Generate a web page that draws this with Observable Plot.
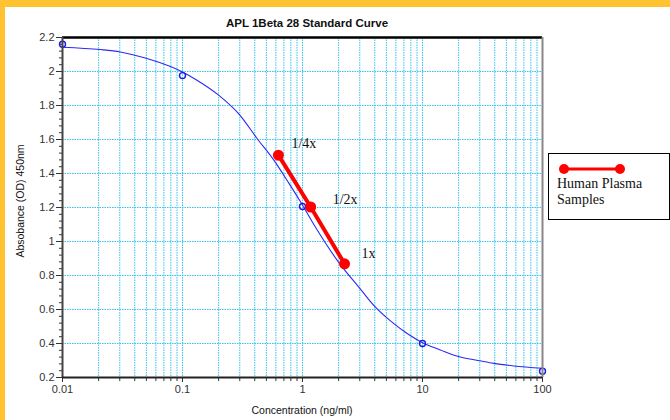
<!DOCTYPE html>
<html>
<head>
<meta charset="utf-8">
<script src="https://cdn.jsdelivr.net/npm/d3@7"></script>
<script src="https://cdn.jsdelivr.net/npm/@observablehq/plot@0.6"></script>
<style>
  html, body { margin: 0; padding: 0; }
  body { width: 670px; height: 420px; background: #FFC332; position: relative; overflow: hidden; }
  #panel { position: absolute; left: 5px; top: 7px; right: 0; bottom: 0; background: #fff; }
  #chart { position: absolute; left: 0; top: 0; }
  .t { position: absolute; font-family: "Liberation Sans", Arial, sans-serif; color: #111; white-space: nowrap; }
  #title { left: 0; width: 614px; text-align: center; top: 17px; font-size: 11.5px; font-weight: bold; }
  #xlabel { left: 0; width: 604px; text-align: center; top: 404px; font-size: 10.5px; }
  #ylabel { left: 20px; top: 201px; font-size: 10.5px; transform: translate(-50%, -50%) rotate(-90deg); }
  #legend { position: absolute; left: 548px; top: 153px; width: 120px; height: 65px; border: 1px solid #000; background: #fff;
            font-family: "Liberation Serif", "Times New Roman", serif; font-size: 14px; color: #111; }
  #legend svg { position: absolute; left: 0; top: 0; }
  #legend .lt { position: absolute; left: 8px; top: 22px; line-height: 16px; }
</style>
</head>
<body>
<div id="panel"></div>
<div id="chart"></div>
<div class="t" id="title">APL 1Beta 28 Standard Curve</div>
<div class="t" id="xlabel">Concentration (ng/ml)</div>
<div class="t" id="ylabel">Absobance (OD) 450nm</div>
<div id="legend">
  <svg width="120" height="30"><line x1="15" y1="15" x2="71" y2="15" stroke="red" stroke-width="3"/><circle cx="15" cy="15" r="5" fill="red"/><circle cx="71" cy="15" r="5" fill="red"/></svg>
  <div class="lt">Human Plasma<br>Samples</div>
</div>
<script>
// Fitted standard curve
const curveX = [0.01, 0.0207, 0.0303, 0.0506, 0.101, 0.132, 0.2, 0.303, 0.418, 0.575, 0.767, 0.96, 1.28, 1.99, 3.04, 3.98, 5.41, 7.45, 10, 14.1, 19.96, 29.8, 39.3, 57.7, 100];
const curveY = [2.143, 2.129, 2.115, 2.076, 1.996, 1.949, 1.861, 1.741, 1.606, 1.48, 1.345, 1.235, 1.085, 0.88, 0.72, 0.62, 0.533, 0.459, 0.405, 0.362, 0.323, 0.299, 0.283, 0.268, 0.254];
// Standard points
const stdX = [0.01, 0.1, 1, 10, 100];
const stdY = [2.16, 1.976, 1.206, 0.40, 0.237];
// Human plasma samples
const sampleX = [0.63, 1.17, 2.24];
const sampleY = [1.508, 1.203, 0.869];
const sampleLabels = ["1/4x", "1/2x", "1x"];
// Axis ticks
const xTicks = [0.01, 0.1, 1, 10, 100];
const xTickLabels = ["0.01", "0.1", "1", "10", "100"];
const yTicks = [0.2, 0.4, 0.6, 0.8, 1.0, 1.2, 1.4, 1.6, 1.8, 2.0, 2.2];
const yTickLabels = ["0.2", "0.4", "0.6", "0.8", "1", "1.2", "1.4", "1.6", "1.8", "2", "2.2"];

const curve = curveX.map((x, i) => ({x, y: curveY[i]}));
const std = stdX.map((x, i) => ({x, y: stdY[i]}));
const samples = sampleX.map((x, i) => ({x, y: sampleY[i], label: sampleLabels[i]}));
const xLabelData = xTicks.map((x, i) => ({x, label: xTickLabels[i]}));
const xMinor = d3.scaleLog().domain([0.01, 100]).ticks();
const yMinor = d3.range(0, 51).map(i => 0.2 + i * 0.04).filter(v => v <= 2.2001);
const yGrid = yTicks.slice(1, -1);

const gridStyle = {stroke: "#35c3f0", strokeWidth: 1, strokeDasharray: "1.5,1"};
const labelOffsets = [[13, -12], [22, -7], [17, -10]];

const chart = Plot.plot({
  width: 670,
  height: 420,
  marginLeft: 62,
  marginRight: 128,
  marginTop: 37,
  marginBottom: 43,
  x: {type: "log", domain: [0.01, 100]},
  y: {domain: [0.2, 2.2]},
  style: {background: "transparent", fontFamily: "Liberation Sans, Arial, sans-serif", fontSize: "11px", overflow: "visible"},
  marks: [
    Plot.ruleX(xMinor, {...gridStyle}),
    Plot.ruleY(yGrid, {...gridStyle}),
    Plot.axisX({ticks: xMinor, tickFormat: () => "", tickSize: 4, stroke: "#333", label: null}),
    Plot.axisX({ticks: xTicks, tickFormat: () => "", tickSize: 5, stroke: "#333", label: null}),
    Plot.text(xLabelData, {x: "x", text: "label", frameAnchor: "bottom", dy: 15, fill: "#333", fontSize: 11}),
    Plot.axisY({ticks: yMinor, tickFormat: () => "", tickSize: 3, stroke: "#333", label: null}),
    Plot.axisY({ticks: yTicks, tickFormat: (d, i) => yTickLabels[i], tickSize: 6, tickPadding: 2, stroke: "#333", fill: "#333", fontSize: 11, label: null}),
    Plot.line(curve, {x: "x", y: "y", stroke: "#2a2af5", strokeWidth: 1.1, curve: "monotone-x"}),
    Plot.dot(std, {x: "x", y: "y", r: 3, stroke: "#1a1ae0", strokeWidth: 1.4, fill: "none"}),
    Plot.line(samples, {x: "x", y: "y", stroke: "#ff0000", strokeWidth: 4}),
    Plot.dot(samples, {x: "x", y: "y", r: 5.5, fill: "#ff0000"}),
    ...samples.map((s, i) => Plot.text([s], {x: "x", y: "y", text: "label", dx: labelOffsets[i][0], dy: labelOffsets[i][1],
      textAnchor: "start", fontFamily: "Liberation Serif, Times New Roman, serif", fontSize: 14, fill: "#111"})),
    Plot.ruleY([2.2], {stroke: "#000", strokeWidth: 2.5}),
    Plot.ruleX([100], {stroke: "#888", strokeWidth: 2}),
    Plot.ruleX([0.01], {stroke: "#444", strokeWidth: 2}),
    Plot.ruleY([0.2], {stroke: "#222", strokeWidth: 2})
  ]
});
document.getElementById("chart").appendChild(chart);
</script>
</body>
</html>
